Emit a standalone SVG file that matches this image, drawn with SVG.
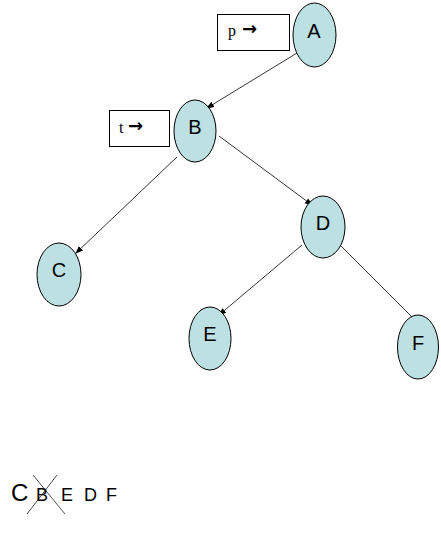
<svg xmlns="http://www.w3.org/2000/svg" width="441" height="540" viewBox="0 0 441 540">
<style>
.n{fill:#bde0e3;stroke:#000;stroke-width:1}
.l{font-family:"Liberation Sans",Arial,sans-serif;font-size:20px;text-anchor:middle}
.e{stroke:#000;stroke-width:0.8;fill:none;marker-end:url(#ar)}
.b{fill:#fff;stroke:#000;stroke-width:1}
.s{font-family:"Liberation Serif","Times New Roman",serif;font-size:16px}
.a{font-family:"DejaVu Sans",sans-serif;font-size:18px;font-weight:bold}
.q{font-family:"Liberation Sans",Arial,sans-serif;font-size:18px}
</style>
<defs>
<marker id="ar" markerWidth="8" markerHeight="8" refX="7" refY="4" orient="auto" markerUnits="userSpaceOnUse">
<path d="M0,1 L8,4 L0,7 z" fill="#000"/>
</marker>
</defs>
<rect width="441" height="540" fill="#fff"/>
<g id="connectors">
<line class="e" x1="297" y1="53" x2="207" y2="108"/>
<line class="e" x1="177" y1="157" x2="76" y2="253"/>
<line class="e" x1="219" y1="136" x2="312" y2="205"/>
<line class="e" x1="302" y1="245" x2="219" y2="315"/>
<line class="e" x1="340" y1="245" x2="418" y2="323"/>
</g>
<g id="box-p"><rect class="b" x="217.5" y="14.5" width="72" height="36"/><text class="s" x="228" y="36">p <tspan class="a" x="242" y="35">→</tspan></text></g>
<g id="box-t"><rect class="b" x="109.5" y="110.5" width="60" height="36"/><text class="s" x="119" y="133">t <tspan class="a" x="128" y="132">→</tspan></text></g>
<g id="node-A"><ellipse class="n" cx="314.5" cy="35" rx="21.5" ry="32"/><text class="l" x="314" y="38">A</text></g>
<g id="node-B"><ellipse class="n" cx="195" cy="131" rx="21" ry="31"/><text class="l" x="195" y="134">B</text></g>
<g id="node-C"><ellipse class="n" cx="59" cy="274.5" rx="22" ry="31.5"/><text class="l" x="59" y="277">C</text></g>
<g id="node-D"><ellipse class="n" cx="323" cy="227" rx="22" ry="31"/><text class="l" x="323" y="230">D</text></g>
<g id="node-E"><ellipse class="n" cx="210" cy="338.5" rx="21" ry="31.5"/><text class="l" x="210" y="341">E</text></g>
<g id="node-F"><ellipse class="n" cx="418" cy="347" rx="20.5" ry="32"/><text class="l" x="418" y="350">F</text></g>
<g id="sequence">
<text x="11" y="501" font-family="'Liberation Sans',Arial,sans-serif" font-size="24">C</text>
<text class="q" x="36" y="501">B</text>
<text class="q" x="61" y="501">E</text>
<text class="q" x="84" y="501">D</text>
<text class="q" x="106" y="501">F</text>
<line x1="27" y1="514" x2="57" y2="475" stroke="#000" stroke-width="0.7"/>
<line x1="33" y1="475" x2="65" y2="514" stroke="#000" stroke-width="0.7"/>
</g>
</svg>
